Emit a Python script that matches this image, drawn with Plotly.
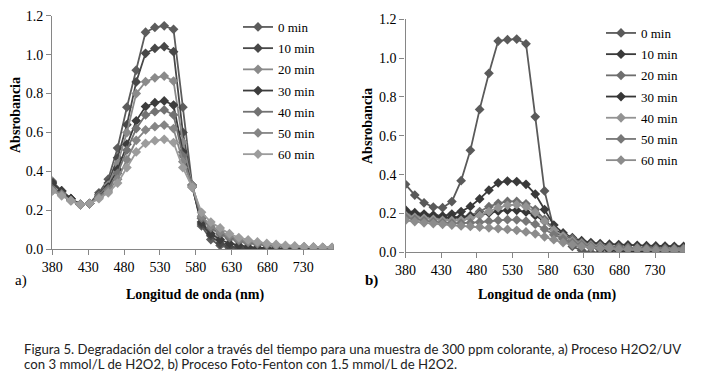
import plotly.graph_objects as go

W, H = 706, 382

# wavelengths (nm), one reading roughly every 13 nm
wavelength = [380 + 13 * i for i in range(31)]
series_names = ["0 min", "10 min", "20 min", "30 min", "40 min", "50 min", "60 min"]

# a) H2O2/UV
a_0 = [0.35, 0.30, 0.26, 0.232, 0.235, 0.29, 0.36, 0.52, 0.73, 0.92, 1.115, 1.14, 1.148, 1.13, 0.73, 0.33, 0.12, 0.05, 0.02, 0.005, 0.0, 0.0, 0.0, 0.0, 0.0, 0.0, 0.0, 0.0, 0.0, 0.0, 0.0]
a_10 = [0.34, 0.30, 0.26, 0.23, 0.235, 0.28, 0.34, 0.47, 0.64, 0.86, 1.007, 1.032, 1.041, 1.015, 0.60, 0.33, 0.13, 0.07, 0.03, 0.015, 0.008, 0.005, 0.003, 0.002, 0.002, 0.0, 0.0, 0.0, 0.0, 0.0, 0.0]
a_20 = [0.32, 0.29, 0.255, 0.23, 0.235, 0.275, 0.33, 0.44, 0.60, 0.80, 0.861, 0.881, 0.89, 0.864, 0.55, 0.33, 0.16, 0.11, 0.075, 0.055, 0.04, 0.03, 0.025, 0.02, 0.015, 0.012, 0.01, 0.01, 0.008, 0.007, 0.007]
a_30 = [0.34, 0.30, 0.26, 0.23, 0.235, 0.27, 0.32, 0.41, 0.54, 0.66, 0.733, 0.753, 0.762, 0.741, 0.50, 0.32, 0.14, 0.08, 0.05, 0.03, 0.02, 0.012, 0.008, 0.005, 0.004, 0.003, 0.002, 0.002, 0.002, 0.001, 0.001]
a_40 = [0.31, 0.285, 0.25, 0.23, 0.235, 0.27, 0.31, 0.39, 0.51, 0.62, 0.69, 0.707, 0.716, 0.69, 0.48, 0.32, 0.16, 0.11, 0.08, 0.06, 0.045, 0.035, 0.028, 0.022, 0.018, 0.015, 0.012, 0.01, 0.01, 0.008, 0.008]
a_50 = [0.30, 0.28, 0.25, 0.23, 0.235, 0.265, 0.30, 0.36, 0.46, 0.56, 0.613, 0.63, 0.638, 0.62, 0.45, 0.33, 0.17, 0.12, 0.09, 0.07, 0.05, 0.04, 0.032, 0.026, 0.02, 0.017, 0.014, 0.012, 0.01, 0.01, 0.009]
a_60 = [0.30, 0.275, 0.25, 0.23, 0.235, 0.26, 0.29, 0.34, 0.42, 0.50, 0.544, 0.558, 0.565, 0.548, 0.42, 0.32, 0.19, 0.14, 0.11, 0.08, 0.06, 0.048, 0.038, 0.03, 0.025, 0.02, 0.017, 0.014, 0.012, 0.01, 0.01]

# b) Foto-Fenton
b_0 = [0.35, 0.295, 0.255, 0.233, 0.23, 0.261, 0.369, 0.525, 0.736, 0.922, 1.088, 1.095, 1.098, 1.074, 0.698, 0.316, 0.12, 0.07, 0.03, 0.01, 0.0, 0.0, 0.0, 0.0, 0.0, 0.0, 0.0, 0.0, 0.0, 0.0, 0.0]
b_10 = [0.218, 0.204, 0.197, 0.192, 0.187, 0.197, 0.21, 0.236, 0.275, 0.32, 0.358, 0.367, 0.364, 0.35, 0.30, 0.22, 0.14, 0.10, 0.075, 0.06, 0.05, 0.045, 0.042, 0.04, 0.038, 0.036, 0.034, 0.033, 0.032, 0.031, 0.03]
b_20 = [0.20, 0.19, 0.183, 0.178, 0.173, 0.172, 0.176, 0.19, 0.21, 0.235, 0.252, 0.262, 0.262, 0.25, 0.22, 0.17, 0.12, 0.09, 0.07, 0.05, 0.04, 0.035, 0.03, 0.028, 0.025, 0.024, 0.022, 0.02, 0.02, 0.02, 0.02]
b_30 = [0.21, 0.198, 0.19, 0.185, 0.18, 0.18, 0.182, 0.186, 0.193, 0.203, 0.212, 0.217, 0.216, 0.208, 0.19, 0.16, 0.12, 0.09, 0.06, 0.04, 0.025, 0.015, 0.01, 0.008, 0.006, 0.005, 0.005, 0.005, 0.005, 0.005, 0.005]
b_40 = [0.19, 0.18, 0.175, 0.17, 0.165, 0.163, 0.165, 0.175, 0.19, 0.21, 0.23, 0.242, 0.245, 0.235, 0.205, 0.16, 0.115, 0.085, 0.06, 0.045, 0.035, 0.03, 0.025, 0.02, 0.02, 0.02, 0.015, 0.015, 0.015, 0.015, 0.015]
b_50 = [0.18, 0.17, 0.163, 0.158, 0.153, 0.15, 0.15, 0.152, 0.155, 0.16, 0.165, 0.168, 0.167, 0.16, 0.145, 0.12, 0.09, 0.07, 0.05, 0.04, 0.03, 0.025, 0.02, 0.02, 0.02, 0.015, 0.015, 0.015, 0.015, 0.01, 0.01]
b_60 = [0.165, 0.158, 0.152, 0.148, 0.144, 0.14, 0.136, 0.133, 0.13, 0.126, 0.122, 0.118, 0.113, 0.105, 0.095, 0.08, 0.065, 0.05, 0.04, 0.03, 0.025, 0.02, 0.02, 0.015, 0.015, 0.015, 0.015, 0.01, 0.01, 0.01, 0.01]

y_ticks = [0.0, 0.2, 0.4, 0.6, 0.8, 1.0, 1.2]
x_ticks = [380, 430, 480, 530, 580, 630, 680, 730]

caption_lines = [
    "Figura 5. Degradación del color a través del tiempo para una muestra de 300 ppm colorante, a) Proceso H2O2/UV",
    "con 3 mmol/L de H2O2, b) Proceso Foto-Fenton con 1.5 mmol/L de H2O2.",
]

a_series = [a_0, a_10, a_20, a_30, a_40, a_50, a_60]
b_series = [b_0, b_10, b_20, b_30, b_40, b_50, b_60]
a_colors = ["#5c5c5c", "#484848", "#8a8a8a", "#3c3c3c", "#727272", "#858585", "#9c9c9c"]
b_colors = ["#5a5a5a", "#3a3a3a", "#6e6e6e", "#363636", "#939393", "#777777", "#8c8c8c"]

SERIF = "Liberation Serif"


def px_x(p):
    return p / W


def px_y(p):
    return 1 - p / H


fig = go.Figure()
for name, ys, col in zip(series_names, a_series, a_colors):
    fig.add_trace(go.Scatter(
        x=wavelength, y=ys, name=name, mode="lines+markers",
        line=dict(color=col, width=1.8),
        marker=dict(symbol="diamond", size=7.5, color=col),
        xaxis="x", yaxis="y", legend="legend", legendgroup="a" + name))
for name, ys, col in zip(series_names, b_series, b_colors):
    fig.add_trace(go.Scatter(
        x=wavelength, y=ys, name=name, mode="lines+markers",
        line=dict(color=col, width=1.8),
        marker=dict(symbol="diamond", size=7.5, color=col),
        xaxis="x2", yaxis="y2", legend="legend2", legendgroup="b" + name))

tickfont = dict(family=SERIF, size=14, color="#000000")
axis_common = dict(showgrid=False, zeroline=False, showline=True, linecolor="#868686",
                   linewidth=1.3, ticks="outside", ticklen=5, tickcolor="#868686",
                   tickfont=tickfont, automargin=False)

legend_font = dict(family=SERIF, size=13, color="#000")
fig.update_layout(
    template="none",
    width=W, height=H, margin=dict(l=0, r=0, t=0, b=0, pad=0, autoexpand=False),
    font=dict(family=SERIF, color="#000"),
    plot_bgcolor="white", paper_bgcolor="white", showlegend=True,
    xaxis=dict(domain=[px_x(52.3), px_x(333.5)], range=[380, 772], tickvals=x_ticks,
               anchor="y", **axis_common),
    yaxis=dict(domain=[px_y(249.3), px_y(15.7)], range=[0, 1.2], tickvals=y_ticks,
               tickformat=".1f", anchor="x", **axis_common),
    xaxis2=dict(domain=[px_x(405.5), px_x(685)], range=[380, 772], tickvals=x_ticks,
                anchor="y2", **axis_common),
    yaxis2=dict(domain=[px_y(252.3), px_y(19.3)], range=[0, 1.2], tickvals=y_ticks,
                tickformat=".1f", anchor="x2", **axis_common),
    legend=dict(x=px_x(238), y=px_y(12), xanchor="left", yanchor="top",
                font=legend_font, bgcolor="rgba(0,0,0,0)", tracegroupgap=1.3, itemwidth=30),
    legend2=dict(x=px_x(601), y=px_y(18), xanchor="left", yanchor="top",
                 font=legend_font, bgcolor="rgba(0,0,0,0)", tracegroupgap=1.3, itemwidth=30),
)

title_font = dict(family=SERIF, size=14, color="#000")
ann = [
    dict(text="<b>Absrobancia</b>", x=px_x(15), y=px_y(115), textangle=-90, font=title_font),
    dict(text="<b>Absrobancia</b>", x=px_x(368), y=px_y(126), textangle=-90, font=title_font),
    dict(text="<b>Longitud de onda (nm)</b>", x=px_x(195), y=px_y(295), font=title_font),
    dict(text="<b>Longitud de onda (nm)</b>", x=px_x(547), y=px_y(295), font=title_font),
    dict(text="a)", x=px_x(21), y=px_y(280), font=dict(family=SERIF, size=15, color="#000")),
    dict(text="<b>b)</b>", x=px_x(371), y=px_y(280), font=dict(family=SERIF, size=15, color="#000")),
]
cap_font = dict(family="Lato", size=13.2, color="#222")
for k, line in enumerate(caption_lines):
    ann.append(dict(text=line, x=px_x(22), y=px_y(349 + 15 * k), xanchor="left",
                    yanchor="middle", font=cap_font))
for a in ann:
    a.setdefault("xanchor", "center")
    a.setdefault("yanchor", "middle")
    fig.add_annotation(xref="paper", yref="paper", showarrow=False, **a)

fig.write_html("out.html", config={"displayModeBar": False},
               post_script="document.body.style.margin='0';")
